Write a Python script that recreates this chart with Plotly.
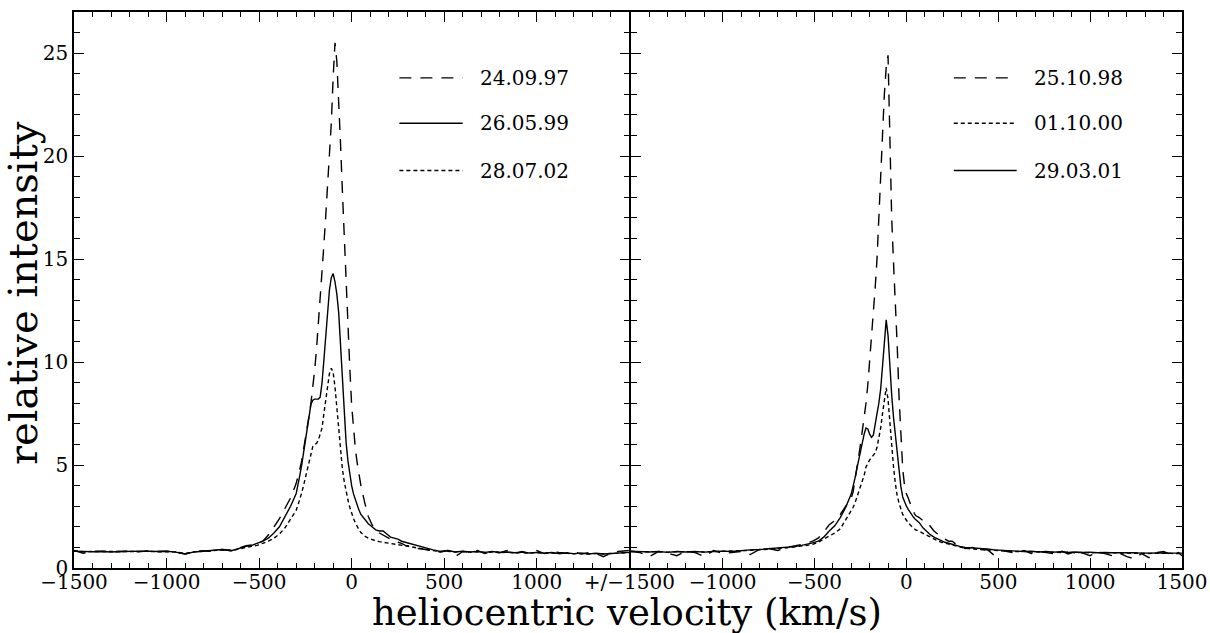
import plotly.graph_objects as go

# ---------------- data ----------------
velocity = [-1500, -1450, -1400, -1350, -1300, -1250, -1200, -1150, -1100, -1050, -1000, -950, -900, -850, -800, -750, -700, -650, -600,
            -570, -540, -510, -480, -450, -420, -390, -360, -330,
            -300, -290, -280, -270, -260, -250, -240, -230, -220, -210, -200, -190, -180, -170, -160, -150, -140, -130,
            -120, -110, -100, -90, -80, -70, -60, -50, -40, -30, -20, -10, 0, 10, 20, 30, 40, 50,
            70, 90, 110, 130, 150, 170, 190, 210, 230, 250, 270, 290,
            320, 360, 400, 440, 480, 520, 560, 600, 640, 680, 720, 760, 800, 840, 880, 920, 960, 1000, 1040, 1080,
            1120, 1160, 1200, 1240, 1280, 1320, 1360, 1400, 1440, 1480, 1500]

# left panel
int_240997 = [0.85, 0.72, 0.80, 0.82, 0.78, 0.80, 0.82, 0.79, 0.83, 0.80, 0.82, 0.78, 0.68, 0.80, 0.84, 0.80, 0.90, 0.86, 1.02,
              1.08, 1.12, 1.20, 1.30, 1.60, 2.00, 2.40, 2.90, 3.40,
              4.1, 4.4, 4.8, 5.2, 5.7, 6.2, 6.8, 7.4, 8.0, 8.7, 9.6, 10.6, 11.8, 13.0, 14.3, 15.7, 17.1, 18.5,
              19.9, 21.6, 23.8, 25.5, 24.6, 22.8, 20.6, 18.3, 16.0, 13.8, 11.7, 9.7, 7.9, 6.7, 5.8, 5.1, 4.5, 4.0,
              3.2, 2.5, 2.1, 1.85, 1.7, 1.6, 1.5, 1.4, 1.35, 1.25, 1.2, 1.1,
              1.05, 0.95, 0.90, 0.82, 0.78, 0.85, 0.55, 0.80, 0.75, 0.85, 0.70, 0.80, 0.75, 0.85, 0.70, 0.80, 0.72, 0.85, 0.70, 0.80,
              0.75, 0.72, 0.80, 0.68, 0.75, 0.70, 0.55, 0.72, 0.80, 0.82, 0.85]
int_260599 = [0.82, 0.80, 0.79, 0.80, 0.78, 0.80, 0.81, 0.80, 0.82, 0.80, 0.81, 0.77, 0.68, 0.78, 0.82, 0.86, 0.90, 0.84, 0.98,
              1.05, 1.10, 1.20, 1.30, 1.45, 1.70, 2.00, 2.50, 3.00,
              3.6, 4.0, 4.5, 5.0, 5.6, 6.2, 6.8, 7.5, 7.95, 8.15, 8.2, 8.2, 8.2, 8.3, 9.0, 10.1, 11.3, 12.5,
              13.5, 14.1, 14.3, 13.9, 13.3, 12.4, 10.8, 9.0, 7.5, 6.1, 5.2, 4.5, 4.0, 3.6, 3.3, 3.0, 2.8, 2.6,
              2.35, 2.15, 2.0, 1.85, 1.8, 1.8, 1.65, 1.5, 1.45, 1.4, 1.3, 1.25,
              1.15, 1.05, 0.95, 0.88, 0.80, 0.85, 0.78, 0.82, 0.78, 0.80, 0.76, 0.80, 0.75, 0.78, 0.74, 0.77, 0.73, 0.76, 0.72, 0.75,
              0.70, 0.73, 0.70, 0.72, 0.68, 0.72, 0.68, 0.71, 0.74, 0.75, 0.76]
int_280702 = [0.84, 0.79, 0.80, 0.81, 0.79, 0.80, 0.80, 0.81, 0.81, 0.79, 0.80, 0.78, 0.70, 0.79, 0.81, 0.85, 0.88, 0.84, 0.96,
              1.00, 1.05, 1.10, 1.20, 1.30, 1.45, 1.65, 1.95, 2.35,
              2.8, 3.05, 3.3, 3.65, 4.0, 4.4, 4.8, 5.2, 5.6, 5.9, 6.0, 6.05, 6.2, 6.45, 6.8, 7.5, 8.2, 8.9,
              9.45, 9.7, 9.5, 8.8, 7.8, 6.6, 5.6, 4.8, 4.2, 3.7, 3.3, 2.95, 2.65, 2.4, 2.2, 2.0, 1.85, 1.72,
              1.55, 1.45, 1.38, 1.32, 1.28, 1.25, 1.22, 1.18, 1.15, 1.12, 1.08, 1.05,
              1.0, 0.95, 0.9, 0.85, 0.8, 0.82, 0.78, 0.8, 0.77, 0.79, 0.75, 0.78, 0.74, 0.76, 0.73, 0.75, 0.72, 0.74, 0.71, 0.73,
              0.7, 0.72, 0.69, 0.71, 0.68, 0.7, 0.68, 0.7, 0.72, 0.74, 0.75]

# right panel
int_251098 = [0.80, 0.75, 0.55, 0.80, 0.72, 0.60, 0.80, 0.75, 0.55, 0.85, 0.70, 0.75, 0.80, 0.65, 0.90, 0.95, 0.85, 1.00, 1.10,
              1.15, 1.20, 1.30, 1.45, 1.75, 2.10, 2.30, 2.60, 3.00,
              3.4, 3.7, 4.2, 4.8, 5.4, 6.0, 6.6, 7.2, 8.0, 8.9, 10.0, 11.2, 12.4, 13.6, 15.0, 16.8, 18.8, 21.0,
              23.0, 24.3, 24.9, 21.0, 17.0, 14.8, 13.0, 10.8, 8.3, 6.2, 4.8, 4.0, 3.6, 3.4, 3.1, 2.9, 2.7, 2.55,
              2.45, 2.3, 2.25, 2.0, 1.8, 1.65, 1.5, 1.4, 1.3, 1.3, 1.15, 1.05,
              0.95, 1.0, 0.85, 0.9, 0.6, 0.85, 0.8, 0.72, 0.85, 0.7, 0.8, 0.75, 0.7, 0.85, 0.68, 0.8, 0.72, 0.6, 0.8, 0.7,
              0.6, 0.72, 0.55, 0.45, 0.7, 0.5, 0.75, 0.8, 0.65, 0.75, 0.6]
int_011000 = [0.80, 0.78, 0.79, 0.80, 0.77, 0.79, 0.78, 0.80, 0.78, 0.80, 0.81, 0.80, 0.84, 0.86, 0.88, 0.90, 0.94, 0.98, 1.02,
              1.05, 1.10, 1.15, 1.25, 1.40, 1.55, 1.70, 1.90, 2.35,
              2.75, 2.95, 3.15, 3.4, 3.65, 3.9, 4.2, 4.5, 4.9, 5.1, 5.25, 5.35, 5.45, 5.6, 5.85, 6.3, 6.8, 7.5,
              8.2, 8.75, 8.2, 7.1, 5.8, 4.9, 4.1, 3.5, 3.15, 2.85, 2.6, 2.45, 2.3, 2.2, 2.1, 2.0, 1.92, 1.85,
              1.78, 1.68, 1.58, 1.48, 1.4, 1.32, 1.25, 1.2, 1.15, 1.1, 1.05, 1.0,
              0.96, 0.92, 0.9, 0.86, 0.85, 0.83, 0.82, 0.8, 0.81, 0.78, 0.79, 0.77, 0.78, 0.75, 0.77, 0.74, 0.76, 0.73, 0.75, 0.72,
              0.74, 0.72, 0.73, 0.71, 0.72, 0.7, 0.72, 0.7, 0.71, 0.7, 0.71]
int_290301 = [0.82, 0.80, 0.78, 0.80, 0.76, 0.80, 0.78, 0.80, 0.77, 0.80, 0.82, 0.80, 0.85, 0.88, 0.90, 0.93, 0.97, 1.00, 1.05,
              1.10, 1.15, 1.22, 1.30, 1.50, 1.80, 2.05, 2.45, 2.95,
              3.6, 3.95, 4.35, 4.8, 5.25, 5.7, 6.1, 6.5, 6.8, 6.75, 6.5, 6.35, 6.45, 6.9, 7.5, 8.0, 8.7, 9.8,
              11.2, 12.05, 11.3, 9.6, 8.4, 7.3, 6.4, 5.4, 4.6, 3.95, 3.45, 3.2, 3.0, 2.85, 2.7, 2.58, 2.45, 2.35,
              2.2, 1.95, 1.78, 1.62, 1.5, 1.42, 1.32, 1.25, 1.2, 1.15, 1.08, 1.05,
              1.0, 0.98, 0.95, 0.92, 0.88, 0.85, 0.84, 0.82, 0.8, 0.81, 0.78, 0.8, 0.77, 0.79, 0.76, 0.78, 0.75, 0.77, 0.74, 0.76,
              0.74, 0.75, 0.73, 0.74, 0.72, 0.73, 0.72, 0.73, 0.72, 0.72, 0.72]

left_names = ["24.09.97", "26.05.99", "28.07.02"]
left_values = [int_240997, int_260599, int_280702]
left_styles = ["dash", "solid", "dot"]
right_names = ["25.10.98", "01.10.00", "29.03.01"]
right_values = [int_251098, int_011000, int_290301]
right_styles = ["dash", "dot", "solid"]

x_tickvals = [-1500, -1000, -500, 0, 500, 1000, 1500]
x_ticktext_left = ["\u22121500", "\u22121000", "\u2212500", "0", "500", "1000", "+/\u22121500"]
x_ticktext_right = ["", "\u22121000", "\u2212500", "0", "500", "1000", "1500"]
y_tickvals = [0, 5, 10, 15, 20, 25]

# ---------------- style ----------------
W, H = 1210, 633
FONT = "DejaVu Serif"
DASH = {"dash": "12px,9px", "solid": "solid", "dot": "4px,3px"}
LW = 1.4
AXLW = 1.5

fig = go.Figure()
for name, vals, st in zip(left_names, left_values, left_styles):
    fig.add_trace(go.Scatter(x=velocity, y=vals, mode="lines", name=name, showlegend=False,
                             line=dict(color="black", width=LW, dash=DASH[st]), xaxis="x", yaxis="y"))
for name, vals, st in zip(right_names, right_values, right_styles):
    fig.add_trace(go.Scatter(x=velocity, y=vals, mode="lines", name=name, showlegend=False,
                             line=dict(color="black", width=LW, dash=DASH[st]), xaxis="x2", yaxis="y2"))

# panel edges in px; right panel starts one line-width later so the shared divider is a single line
x_left, x_mid, x_mid2, x_right = 74 / W, 629.3 / W, (629.3 + AXLW) / W, 1182 / W
y_bot, y_top = (H - 568) / H, (H - 12) / H

common_x = dict(range=[-1500, 1500], showline=True, linecolor="black", linewidth=AXLW, mirror="allticks",
                ticks="inside", ticklen=10, tickwidth=1.3, tickcolor="black", showgrid=False, zeroline=False,
                automargin=False, ticklabelstandoff=-5,
                tickmode="array", tickvals=x_tickvals, tickfont=dict(family=FONT, size=20, color="black"),
                minor=dict(ticks="inside", ticklen=5, tickwidth=1, tickcolor="black", tickmode="linear",
                           tick0=0, dtick=100, showgrid=False))
common_y = dict(range=[0, 27], showline=True, linecolor="black", linewidth=AXLW, mirror="allticks",
                ticks="inside", ticklen=10, tickwidth=1.3, tickcolor="black", showgrid=False, zeroline=False,
                automargin=False,
                tickmode="array", tickvals=y_tickvals, tickfont=dict(family=FONT, size=20, color="black"),
                minor=dict(ticks="inside", ticklen=6, tickwidth=1, tickcolor="black", tickmode="linear",
                           tick0=0, dtick=1, showgrid=False),
                domain=[y_bot, y_top])

fig.update_layout(
    width=W, height=H, margin=dict(l=0, r=0, t=0, b=0, autoexpand=False),
    paper_bgcolor="white", plot_bgcolor="white", showlegend=False,
    xaxis=dict(common_x, domain=[x_left, x_mid], anchor="y", ticktext=x_ticktext_left),
    xaxis2=dict(common_x, domain=[x_mid2, x_right], anchor="y2", ticktext=x_ticktext_right),
    yaxis=dict(common_y, anchor="x"),
    yaxis2=dict(common_y, anchor="x2", showticklabels=False),
)

annotations = [
    dict(text="heliocentric velocity (km/s)", x=627 / W, y=(H - 612) / H, xref="paper", yref="paper",
         xanchor="center", yanchor="middle", showarrow=False, font=dict(family=FONT, size=37, color="black")),
    dict(text="relative intensity", x=23 / W, y=(H - 293) / H, xref="paper", yref="paper", textangle=-90,
         xanchor="center", yanchor="middle", showarrow=False, font=dict(family=FONT, size=40, color="black")),
]
shapes = []
legend_rows = [23.8 / 27, 21.6 / 27, 19.3 / 27]
for xr, yr, names, styles in [("x domain", "y domain", left_names, left_styles),
                               ("x2 domain", "y2 domain", right_names, right_styles)]:
    for row, name, st in zip(legend_rows, names, styles):
        shapes.append(dict(type="line", xref=xr, yref=yr, x0=0.586, x1=0.70, y0=row, y1=row,
                           line=dict(color="black", width=LW, dash=DASH[st])))
        annotations.append(dict(text=name, xref=xr, yref=yr, x=0.728, y=row, xanchor="left", yanchor="middle",
                                showarrow=False, font=dict(family=FONT, size=20, color="black")))
fig.update_layout(annotations=annotations, shapes=shapes)

fig.write_html("out.html")
